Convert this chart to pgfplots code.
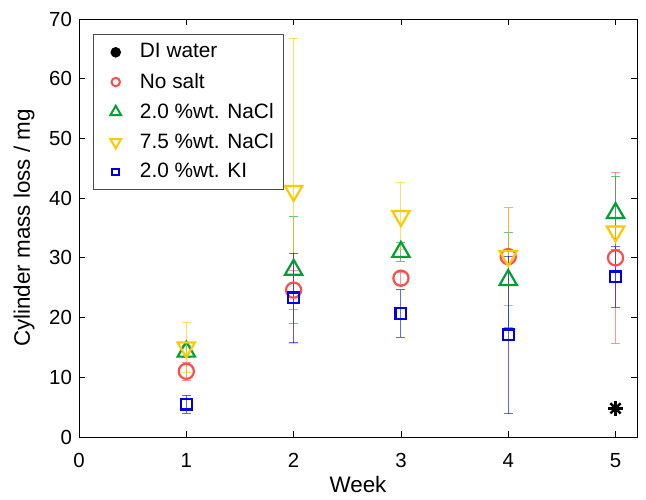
\documentclass[border=0pt]{standalone}
\usepackage{pgfplots}
\pgfplotsset{compat=1.18}
\usepackage{fontspec}
\setmainfont{Liberation Sans}
\definecolor{cred}{RGB}{255,77,77}
\definecolor{cgreen}{RGB}{0,160,50}
\definecolor{cyellow}{RGB}{255,200,0}
\definecolor{cblue}{RGB}{0,0,230}
\begin{document}
\fontsize{10}{12}\selectfont
\begin{tikzpicture}
\begin{axis}[
  scale only axis, width=279pt, height=209pt,
  xmin=0, xmax=5.2, ymin=0, ymax=70,
  xtick={0,1,2,3,4,5}, ytick={0,10,20,30,40,50,60,70},
  tick align=inside, major tick length=3pt,
  tick style={black, line width=0.4pt},
  axis line style={black, line width=0.4pt},
  /pgf/number format/assume math mode=true,
  ticklabel style={font=\fontsize{10.2}{12}\selectfont},
  xticklabel style={yshift=-4.5pt},
  xlabel={Week}, ylabel={Cylinder mass loss / mg},
  label style={font=\fontsize{11.2}{13}\selectfont},
  xlabel style={yshift=2.5pt},
  ylabel style={yshift=0.5pt},
  legend style={at={(0.025,0.964)}, anchor=north west, draw=black!70, line width=0.6pt,
    font=\fontsize{10.4}{12}\selectfont, row sep=2pt, inner xsep=3pt, inner ysep=2.5pt},
  legend cell align=left,
  legend image code/.code={\draw[mark repeat=2,mark phase=2] plot coordinates {(0pt,0pt)(7.5pt,0pt)(15pt,0pt)};\path (0pt,0pt) (17pt,0pt);},
  error bars/y dir=both, error bars/y explicit,
  error bars/error mark options={rotate=90, mark size=2.25pt, line width=0.5pt},
]
\addplot[only marks, mark=x, mark size=3.6pt, line width=1.2pt, black,
  legend image code/.code={\fill[black] (7.5pt,0pt) circle (2pt);\path (0pt,0pt) (17pt,0pt);}]
  coordinates {(5,4.8)};
\addlegendentry{DI water}
\addplot[only marks, mark=+, mark size=3.6pt, line width=1.2pt, black, forget plot]
  coordinates {(5,4.8)};
\addplot[only marks, mark=o, mark size=3.8pt, line width=1.1pt, cred,
  error bars/error bar style={line width=0.5pt, draw opacity=0.6},
  legend image post style={mark size=2.1pt, line width=1pt}]
  coordinates {(1,11.0) +- (0,1.5) (2,24.6) +- (0,3.3) (3,26.6) +- (0,1.0) (4,30.2) +- (0,8.2) (5,30.0) +- (0,14.3)};
\addlegendentry{No salt}
\addplot[only marks, mark=triangle, mark size=5pt, line width=1.1pt, cgreen,
  error bars/error bar style={line width=0.5pt, draw opacity=0.6},
  legend image post style={mark size=3.1pt, line width=1pt}]
  coordinates {(1,14.3) +- (0,1.0) (2,28.0) +- (0,9.0) (3,31.0) +- (0,1.6) (4,26.3) +- (0,7.9) (5,37.5) +- (0,6.1)};
\addlegendentry{2.0 \%wt. NaCl}
\addplot[only marks, mark=triangle, mark size=5pt, line width=1.1pt, cyellow,
  mark options={rotate=180},
  error bars/error bar style={line width=0.5pt, draw opacity=0.6},
  legend image post style={mark size=3.1pt, line width=1pt}]
  coordinates {(1,15.0) +- (0,4.2) (2,41.2) +- (0,25.6) (3,37.0) +- (0,5.6) (4,30.3) +- (0,8.2) (5,34.4) +- (0,1.0)};
\addlegendentry{7.5 \%wt. NaCl}
\addplot[only marks, mark=square, mark size=2.7pt, line width=1.1pt, cblue,
  error bars/error bar style={line width=0.5pt, draw opacity=0.6},
  legend image post style={mark size=1.7pt, line width=1pt}]
  coordinates {(1,5.5) +- (0,1.5) (2,23.3) +- (0,7.5) (3,20.7) +- (0,4.0) (4,17.1) +- (0,13.2) (5,26.8) +- (0,5.1)};
\addlegendentry{2.0 \%wt. KI}
\end{axis}
\pgfresetboundingbox
\path[use as bounding box] (current axis.south west) ++(-39.5pt,-31pt) rectangle ++(323pt,249.5pt);
\end{tikzpicture}
\end{document}
